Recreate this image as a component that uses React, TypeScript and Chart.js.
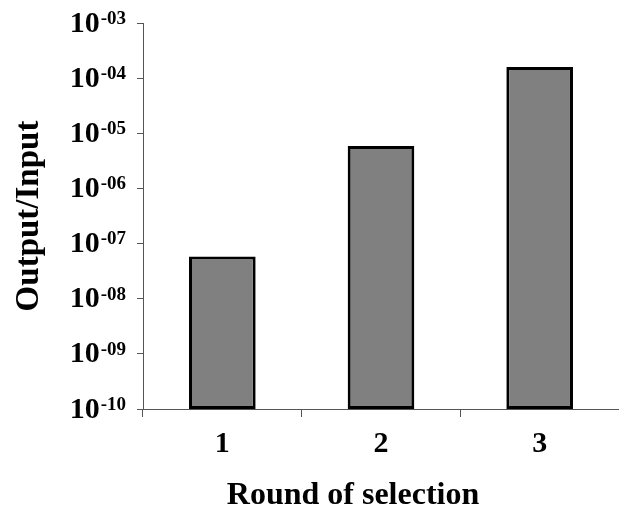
import React, { useEffect, useRef } from "react";
import { Chart, registerables } from "chart.js";

Chart.register(...registerables);

const categories = ["1", "2", "3"];
const outputInputRatios = [5.8e-8, 5.9e-6, 1.6e-4];
const yTickExponents = [-10, -9, -8, -7, -6, -5, -4, -3];
const yTickSuperscripts = ["-10", "-09", "-08", "-07", "-06", "-05", "-04", "-03"];
const xAxisTitle = "Round of selection";
const yAxisTitle = "Output/Input";

const FONT = '"Liberation Serif", "Times New Roman", serif';

const customText = {
  id: "customText",
  afterDraw(chart: any) {
    const ctx = chart.ctx;
    const yScale = chart.scales.y;
    ctx.save();
    ctx.fillStyle = "#000";
    yTickExponents.forEach((e, i) => {
      const y = yScale.getPixelForValue(Math.pow(10, e));
      const sup = yTickSuperscripts[i];
      ctx.font = `bold 19px ${FONT}`;
      const w = ctx.measureText(sup).width;
      ctx.textAlign = "right";
      ctx.textBaseline = "alphabetic";
      ctx.fillText(sup, 126, y + 0.8);
      ctx.font = `bold 30px ${FONT}`;
      ctx.fillText("10", 125 - w, y + 8.5);
    });
    ctx.font = `bold 32px ${FONT}`;
    ctx.textAlign = "center";
    ctx.textBaseline = "alphabetic";
    ctx.fillText(xAxisTitle, 353, 504);
    ctx.restore();
  },
};

export default function App() {
  const ref = useRef<HTMLCanvasElement | null>(null);
  useEffect(() => {
    if (!ref.current) return;
    const chart = new Chart(ref.current, {
      type: "bar",
      data: {
        labels: categories,
        datasets: [
          {
            data: outputInputRatios,
            backgroundColor: "#808080",
            borderColor: "#000000",
            borderWidth: 3,
            borderSkipped: false,
            barPercentage: 0.42,
            categoryPercentage: 1,
          },
        ],
      },
      options: {
        responsive: false,
        animation: false,
        layout: { padding: { top: 23, right: 0, left: 0, bottom: 0 } },
        plugins: {
          legend: { display: false },
          tooltip: { enabled: false },
        },
        scales: {
          x: {
            type: "category",
            offset: true,
            grid: {
              display: true,
              offset: true,
              drawOnChartArea: false,
              drawTicks: true,
              tickLength: 8,
              color: "#555",
              lineWidth: 1,
            },
            border: { display: true, color: "#555", width: 1 },
            ticks: {
              color: "#000",
              font: { family: FONT, size: 30, weight: "bold" },
              padding: 9,
              maxRotation: 0,
              autoSkip: false,
            },
            afterFit(scale: any) {
              scale.height = 101;
            },
          },
          y: {
            type: "logarithmic",
            min: 1e-10,
            max: 1e-3,
            grid: {
              display: true,
              drawOnChartArea: false,
              drawTicks: true,
              tickLength: 6,
              color: "#555",
              lineWidth: 1,
            },
            border: { display: true, color: "#555", width: 1 },
            ticks: { display: false },
            afterBuildTicks(scale: any) {
              scale.ticks = yTickExponents.map((e) => ({ value: Math.pow(10, e) }));
            },
            title: {
              display: true,
              text: yAxisTitle,
              color: "#000",
              font: { family: FONT, size: 33, weight: "bold" },
              padding: { top: 10, bottom: 0 },
            },
            afterFit(scale: any) {
              scale.width = 143;
            },
          },
        },
      },
      plugins: [customText],
    });
    return () => chart.destroy();
  }, []);
  return (
    <div style={{ position: "fixed", left: 0, top: 0, width: 619, height: 510, background: "#fff" }}>
      <canvas ref={ref} width={619} height={510} style={{ display: "block" }} />
    </div>
  );
}
